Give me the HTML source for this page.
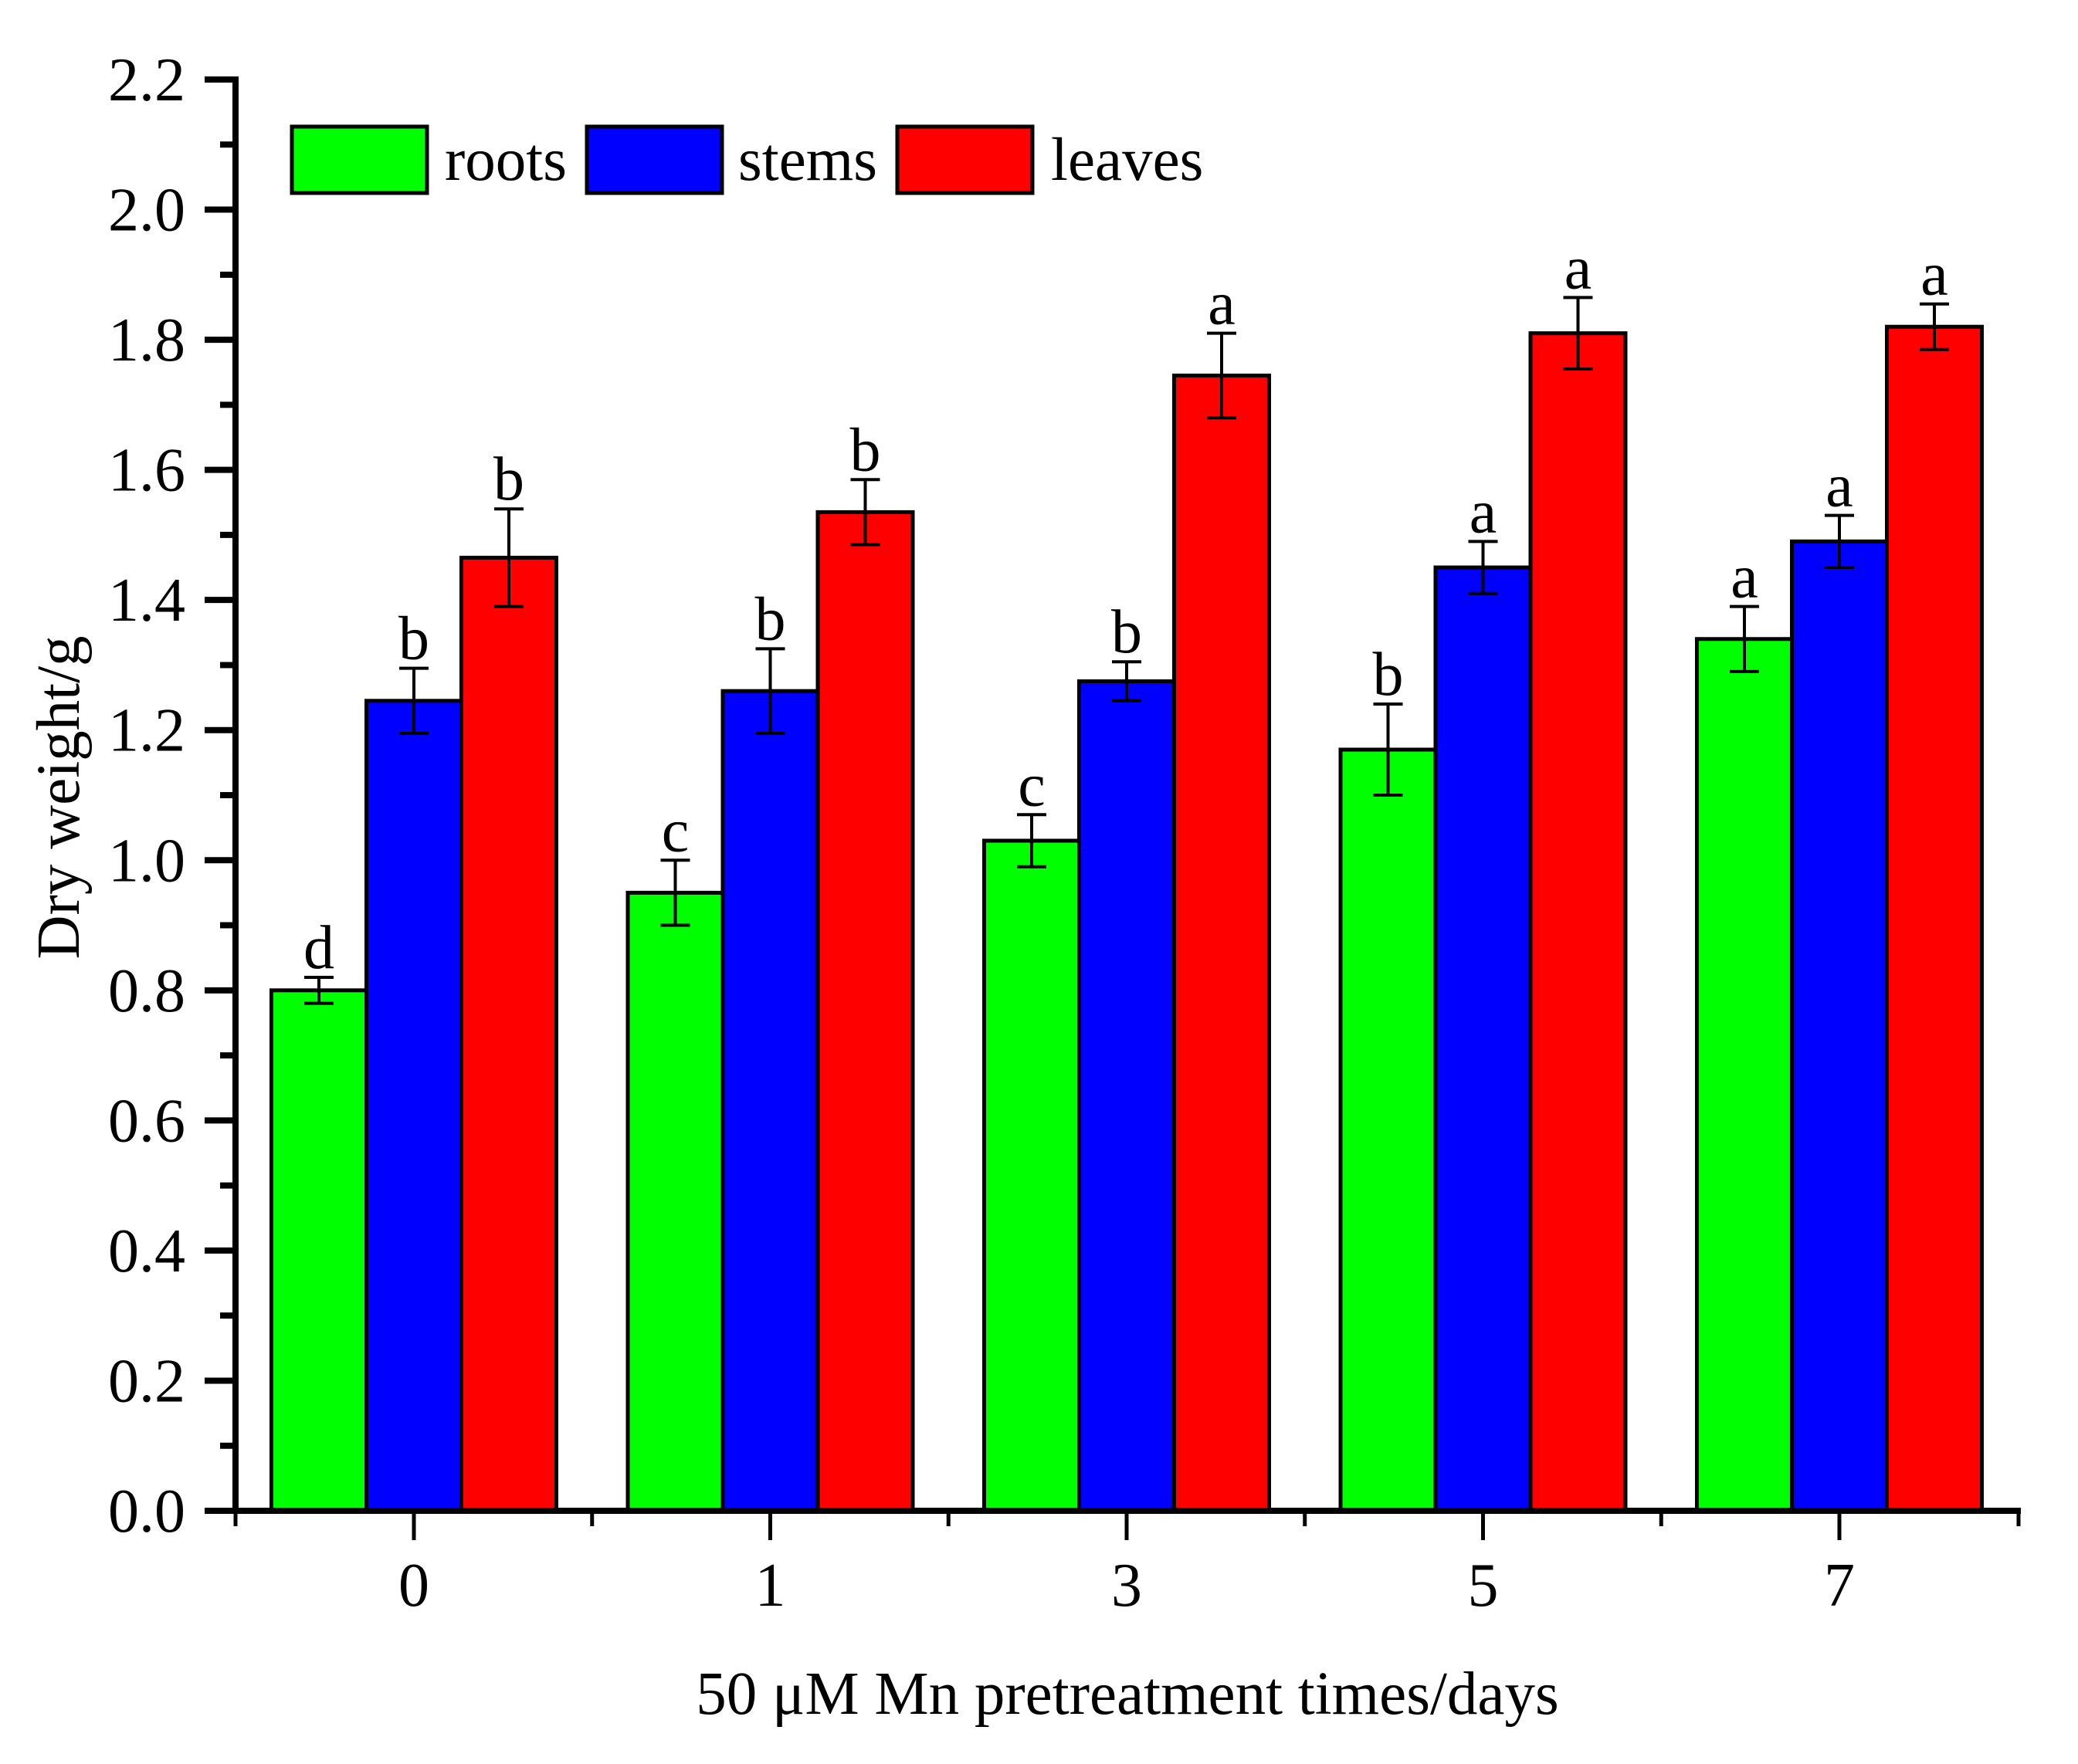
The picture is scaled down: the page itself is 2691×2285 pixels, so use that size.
<!DOCTYPE html>
<html><head><meta charset="utf-8"><style>
html,body{margin:0;padding:0;background:#fff;}
svg{display:block;font-family:"Liberation Serif",serif;}
</style></head><body>
<svg id="chart" width="2691" height="2285" viewBox="0 0 2691 2285" xmlns="http://www.w3.org/2000/svg">
<rect width="2691" height="2285" fill="#fff"/>
<g id="bars"></g>
<g id="axes"></g>
<g id="legend">
  <rect x="378" y="164" width="175" height="86" fill="#00ff00" stroke="#000" stroke-width="5"/>
  <text x="576" y="233" font-size="79">roots</text>
  <rect x="760" y="164" width="175" height="86" fill="#0000ff" stroke="#000" stroke-width="5"/>
  <text x="956" y="233" font-size="79">stems</text>
  <rect x="1162" y="164" width="175" height="86" fill="#ff0000" stroke="#000" stroke-width="5"/>
  <text x="1361" y="233" font-size="79">leaves</text>
</g>
<text transform="translate(102,1033) rotate(-90)" text-anchor="middle" font-size="79">Dry weight/g</text>
<text x="1460" y="2220" text-anchor="middle" font-size="79">50 μM Mn pretreatment times/days</text>
</svg>
<script>
const categories = ["0","1","3","5","7"];
const rootsVals = [0.80, 0.95, 1.03, 1.17, 1.34];
const stemsVals = [1.245, 1.26, 1.275, 1.45, 1.49];
const leavesVals = [1.465, 1.535, 1.745, 1.81, 1.82];
const rootsErr = [0.02, 0.05, 0.04, 0.07, 0.05];
const stemsErr = [0.05, 0.065, 0.03, 0.04, 0.04];
const leavesErr = [0.075, 0.05, 0.065, 0.055, 0.035];
const rootsLetters = ["d","c","c","b","a"];
const stemsLetters = ["b","b","b","a","a"];
const leavesLetters = ["b","b","a","a","a"];
const yTicks = ["0.0","0.2","0.4","0.6","0.8","1.0","1.2","1.4","1.6","1.8","2.0","2.2"];

const NS = "http://www.w3.org/2000/svg";
const X0 = 305, X1 = 2617, Y0 = 1957, YMAX = 2.2, YTOP = 103;
function yScale(v){ return Y0 - v / YMAX * (Y0 - YTOP); }
function xCenter(i){ return 536 + i * 461.5; }
const BW = 123;
function mk(tag, attrs, parent){
  const e = document.createElementNS(NS, tag);
  for (const k in attrs) e.setAttribute(k, attrs[k]);
  parent.appendChild(e); return e;
}
const bars = document.getElementById('bars');
const axes = document.getElementById('axes');
const series = [
  {name:'roots', vals:rootsVals, err:rootsErr, let:rootsLetters, color:'#00ff00', off:-1},
  {name:'stems', vals:stemsVals, err:stemsErr, let:stemsLetters, color:'#0000ff', off:0},
  {name:'leaves', vals:leavesVals, err:leavesErr, let:leavesLetters, color:'#ff0000', off:1}
];
series.forEach(s => {
  s.vals.forEach((v, i) => {
    const cx = xCenter(i) + s.off * BW;
    const r = mk('rect', {x: cx - BW/2, y: yScale(v), width: BW, height: Y0 - yScale(v), fill: s.color, stroke:'#000', 'stroke-width':5}, bars);
    
    
    const yt = yScale(v + s.err[i]), yb = yScale(v - s.err[i]);
    const eb = mk('path', {d:`M${cx},${yt}V${yb}M${cx-19},${yt}H${cx+19}M${cx-19},${yb}H${cx+19}`, stroke:'#000', 'stroke-width':4, fill:'none'}, bars);
    
    
    const t = mk('text', {x: cx, y: yt - 12, 'text-anchor':'middle', 'font-size':80}, bars);
    t.textContent = s.let[i];
    
    
  });
});
const ya = mk('line', {x1:X0, y1:YTOP-4, x2:X0, y2:Y0+4, stroke:'#000', 'stroke-width':8}, axes);


const xa = mk('line', {x1:X0-40, y1:Y0, x2:X1, y2:Y0, stroke:'#000', 'stroke-width':8}, axes);


yTicks.forEach((lab, k) => {
  const v = parseFloat(lab), y = yScale(v);
  const tk = mk('line', {x1:X0-40, y1:y, x2:X0, y2:y, stroke:'#000', 'stroke-width':8}, axes);
  
  
  if (k < yTicks.length - 1) {
    const ym = yScale(v + 0.1);
    const mt = mk('line', {x1:X0-20, y1:ym, x2:X0, y2:ym, stroke:'#000', 'stroke-width':8}, axes);
    
    
  }
  const t = mk('text', {x:240, y:y+27, 'text-anchor':'end', 'font-size':80}, axes);
  t.textContent = lab;
  
  
});
categories.forEach((c, i) => {
  const x = xCenter(i);
  const tk = mk('line', {x1:x, y1:Y0, x2:x, y2:Y0+38, stroke:'#000', 'stroke-width':5}, axes);
  
  
  const t = mk('text', {x:x, y:2080, 'text-anchor':'middle', 'font-size':80}, axes);
  t.textContent = c;
  
  
});
for (let i = 0; i <= categories.length; i++) {
  const x = i === 0 ? X0 : (i === categories.length ? X1 - 3 : xCenter(i) - 461.5/2);
  const mt = mk('line', {x1:x, y1:Y0, x2:x, y2:Y0+20, stroke:'#000', 'stroke-width':5}, axes);
  
  
}
</script>
</body></html>
